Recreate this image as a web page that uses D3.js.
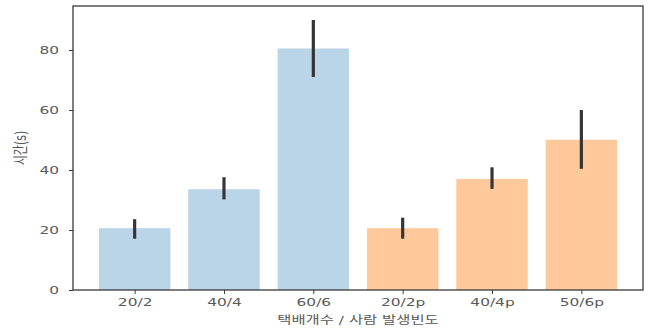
<!DOCTYPE html>
<html><head><meta charset="utf-8">
<script src="https://cdn.jsdelivr.net/npm/d3@7/dist/d3.min.js"></script>
<style>
html,body{margin:0;padding:0;background:#fff;}
svg{display:block;}
</style></head>
<body><svg id="c" width="652" height="335"></svg>
<script>
const categories = ["20/2","40/4","60/6","20/2p","40/4p","50/6p"];
const means = [20.6, 33.6, 80.5, 20.6, 37.0, 50.1];
const errLow = [17.1, 30.2, 71.0, 17.1, 33.7, 40.4];
const errHigh = [23.6, 37.6, 90.0, 24.1, 40.9, 60.0];
const groups = ["a","a","a","b","b","b"];
const yTicks = [0,20,40,60,80];
const xLabel = "택배개수 / 사람 발생빈도";
const yLabel = "시간(s)";
const colors = {a:"#bad4e8", b:"#ffc99b"};

const L=73, R=643, T=6, B=290;
const SX=1.4;
const font = "'DejaVu Sans','Noto Sans CJK KR',sans-serif";
const txtColor = "#5a5a5a";
const svg = d3.select("#c");
const x = d3.scaleLinear().domain([-0.69, 5.69]).range([L, R]);
const y = d3.scaleLinear().domain([0, 94.67]).range([B, T]);
const bw = x(0.8) - x(0);

svg.append("g").selectAll("rect").data(categories).join("rect")
  .attr("x", (d,i)=>x(i)-bw/2).attr("width", bw)
  .attr("y", (d,i)=>y(means[i])).attr("height", (d,i)=>y(0)-y(means[i]))
  .attr("fill", (d,i)=>colors[groups[i]]);

svg.append("g").selectAll("line").data(categories).join("line")
  .attr("x1",(d,i)=>x(i)).attr("x2",(d,i)=>x(i))
  .attr("y1",(d,i)=>y(errLow[i])).attr("y2",(d,i)=>y(errHigh[i]))
  .attr("stroke","#353535").attr("stroke-width",3.2);

// frame
svg.append("rect").attr("x",L).attr("y",T).attr("width",R-L).attr("height",B-T)
  .attr("fill","none").attr("stroke","#3a3a3a").attr("stroke-width",1.3);

const xa = svg.append("g").attr("transform",`translate(0,${B})`)
  .call(d3.axisBottom(x).tickValues(d3.range(categories.length)).tickFormat(i=>categories[i]).tickSize(4).tickPadding(4));
const ya = svg.append("g").attr("transform",`translate(${L},0)`)
  .call(d3.axisLeft(y).tickValues(yTicks).tickSize(4).tickPadding(10));
[xa,ya].forEach(a=>{
  a.select(".domain").remove();
  a.selectAll(".tick line").attr("stroke","#3a3a3a").attr("stroke-width",1);
  a.selectAll("text").attr("font-family",font).attr("font-size",11).attr("fill",txtColor);
});
xa.selectAll("text").attr("transform",`scale(${SX},1)`);
ya.selectAll("text").each(function(){
  const t=d3.select(this); const xx=+t.attr("x");
  t.attr("x", xx/SX).attr("transform",`scale(${SX},1)`);
});

svg.append("text").attr("transform",`translate(${(L+R)/2},${324}) scale(${SX},1)`)
  .attr("text-anchor","middle").attr("font-family",font).attr("font-size",11).attr("fill",txtColor)
  .text(xLabel);
svg.append("text").attr("transform",`translate(26,${(T+B)/2}) scale(${SX},1) rotate(-90)`)
  .attr("text-anchor","middle").attr("font-family",font).attr("font-size",11).attr("fill",txtColor)
  .text(yLabel);
</script></body></html>
